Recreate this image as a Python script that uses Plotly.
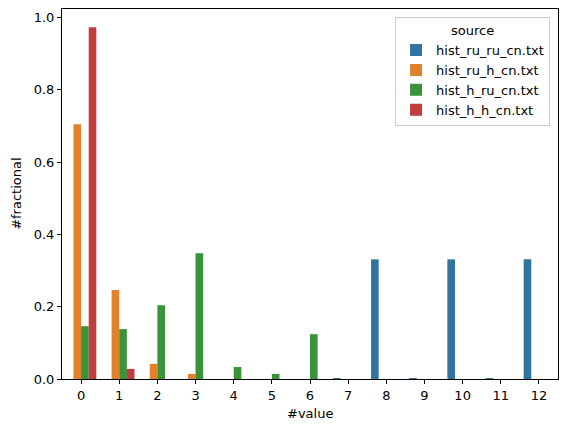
import plotly.graph_objects as go

# ── Dados ───────────────────────────────────────────────────────────
values = [str(v) for v in range(13)]

hist_ru_ru = [None, None, None, None, None, None, None, 0.002, 0.331, 0.002, 0.331, 0.002, 0.331]
hist_ru_h = [0.705, 0.246, 0.042, 0.014, None, None, None, None, None, None, None, None, None]
hist_h_ru = [0.146, 0.138, 0.204, 0.348, 0.033, 0.014, 0.124, None, None, None, None, None, None]
hist_h_h = [0.973, 0.028, None, None, None, None, None, None, None, None, None, None, None]

series = [
    ("hist_ru_ru_cn.txt", hist_ru_ru, "#3274A1"),
    ("hist_ru_h_cn.txt", hist_ru_h, "#E1812C"),
    ("hist_h_ru_cn.txt", hist_h_ru, "#3A923A"),
    ("hist_h_h_cn.txt", hist_h_h, "#C03D3E"),
]

FONT = "DejaVu Sans, sans-serif"
FS = 13

fig = go.Figure()
for name, ys, color in series:
    fig.add_trace(go.Bar(
        x=values, y=ys, name=name,
        marker=dict(color=color, line=dict(width=0)),
    ))

axis_style = dict(
    showline=True, linecolor="black", linewidth=1, mirror=True,
    ticks="outside", ticklen=4, tickcolor="black",
    showgrid=False, zeroline=False, automargin=False,
    tickfont=dict(size=FS, color="black"),
)

# a página tem margem de 8px no body: figura um pouco menor para compensar
fig.update_layout(
    width=551, height=416,
    paper_bgcolor="white", plot_bgcolor="white",
    font=dict(family=FONT, size=FS, color="black"),
    margin=dict(l=54, r=1, t=1, b=45),
    barmode="group", bargap=0.2, bargroupgap=0,
    xaxis=dict(range=[-0.5, 12.5], **axis_style),
    yaxis=dict(range=[0, 1.0235], tickvals=[0, 0.2, 0.4, 0.6, 0.8, 1.0],
               tickformat=".1f", **axis_style),
    legend=dict(
        title=dict(text="source", side="top center", font=dict(size=FS)),
        x=0.984, y=0.978, xanchor="right", yanchor="top",
        bordercolor="#cccccc", borderwidth=1, bgcolor="rgba(255,255,255,0.8)",
        font=dict(size=FS),
    ),
    annotations=[
        dict(text="#value", xref="paper", yref="paper", x=0.5, y=-0.092,
             xanchor="center", yanchor="middle", showarrow=False,
             font=dict(size=FS)),
        dict(text="#fractional", xref="paper", yref="paper", x=-0.093, y=0.5,
             xanchor="center", yanchor="middle", textangle=-90, showarrow=False,
             font=dict(size=FS)),
    ],
)

fig.write_html("out.html")
